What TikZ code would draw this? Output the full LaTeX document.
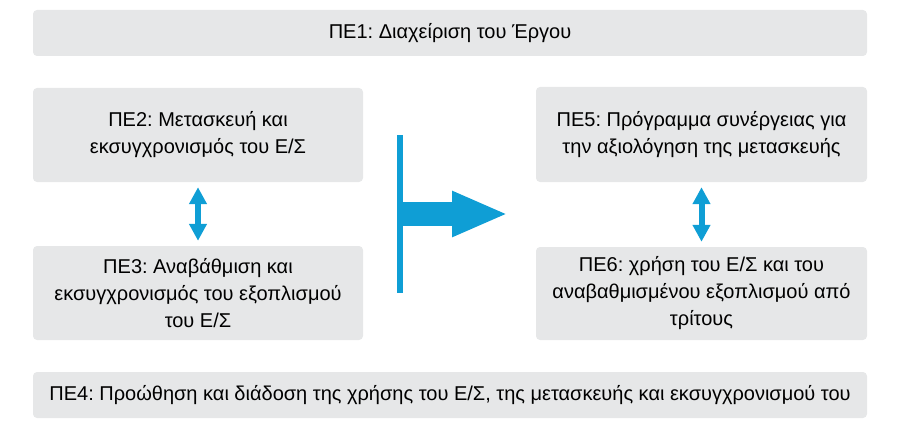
\documentclass[tikz,border=0pt]{standalone}
\usepackage{fontspec}
\setmainfont{Liberation Sans}
\frenchspacing
\usetikzlibrary{arrows.meta}
\definecolor{boxgray}{HTML}{E6E7E8}
\definecolor{arrowblue}{HTML}{0F9ED5}

\begin{document}
\begin{tikzpicture}
        [x=1pt,y=-1pt,every node/.style={font=\fontsize{20}{27}\selectfont},
        box/.style={fill=boxgray,rounded corners=4pt,align=center,inner sep=0pt},
        link/.style={arrowblue,line width=6pt,{Triangle[width=17pt,length=17pt]}-{Triangle[width=17pt,length=17pt]},shorten >=5pt,shorten <=5pt}]

        \useasboundingbox (0,0) rectangle (900,428);

        \node[box,minimum width=834pt,minimum height=46pt] (pe1) at (450,33) {ΠΕ1: Διαχείριση του Έργου};
        \node[box,minimum width=330pt,minimum height=94pt] (pe2) at (198,135) {ΠΕ2: Μετασκευή και\\εκσυγχρονισμός του Ε/Σ};
        \node[box,minimum width=330pt,minimum height=94pt] (pe3) at (198,293) {ΠΕ3: Αναβάθμιση και\\εκσυγχρονισμός του εξοπλισμού\\του Ε/Σ};
        \node[box,minimum width=331pt,minimum height=95pt] (pe5) at (701.5,134.5) {ΠΕ5: Πρόγραμμα συνέργειας για\\την αξιολόγηση της μετασκευής};
        \node[box,minimum width=331pt,minimum height=93pt] (pe6) at (701.5,293.5) {ΠΕ6: χρήση του Ε/Σ και του\\αναβαθμισμένου εξοπλισμού από\\τρίτους};
        \node[box,minimum width=834pt,minimum height=46pt] (pe4) at (450,395) {ΠΕ4: Προώθηση και διάδοση της χρήσης του Ε/Σ, της μετασκευής και εκσυγχρονισμού του};

        \coordinate (bartop) at (400,135);
        \coordinate (barbot) at (400,293);
        \coordinate (barmid) at (400,214);
        \coordinate (tip) at (508,214);

        \draw[link] (pe2) -- (pe3);
        \draw[link] (pe5) -- (pe6);
        \draw[arrowblue,line width=6pt] (bartop) -- (barmid) -- (barbot);
        \draw[arrowblue,line width=24pt,-{Triangle[width=42pt,length=56pt]}] (barmid) -- (tip);

      \end{tikzpicture}
\end{document}
